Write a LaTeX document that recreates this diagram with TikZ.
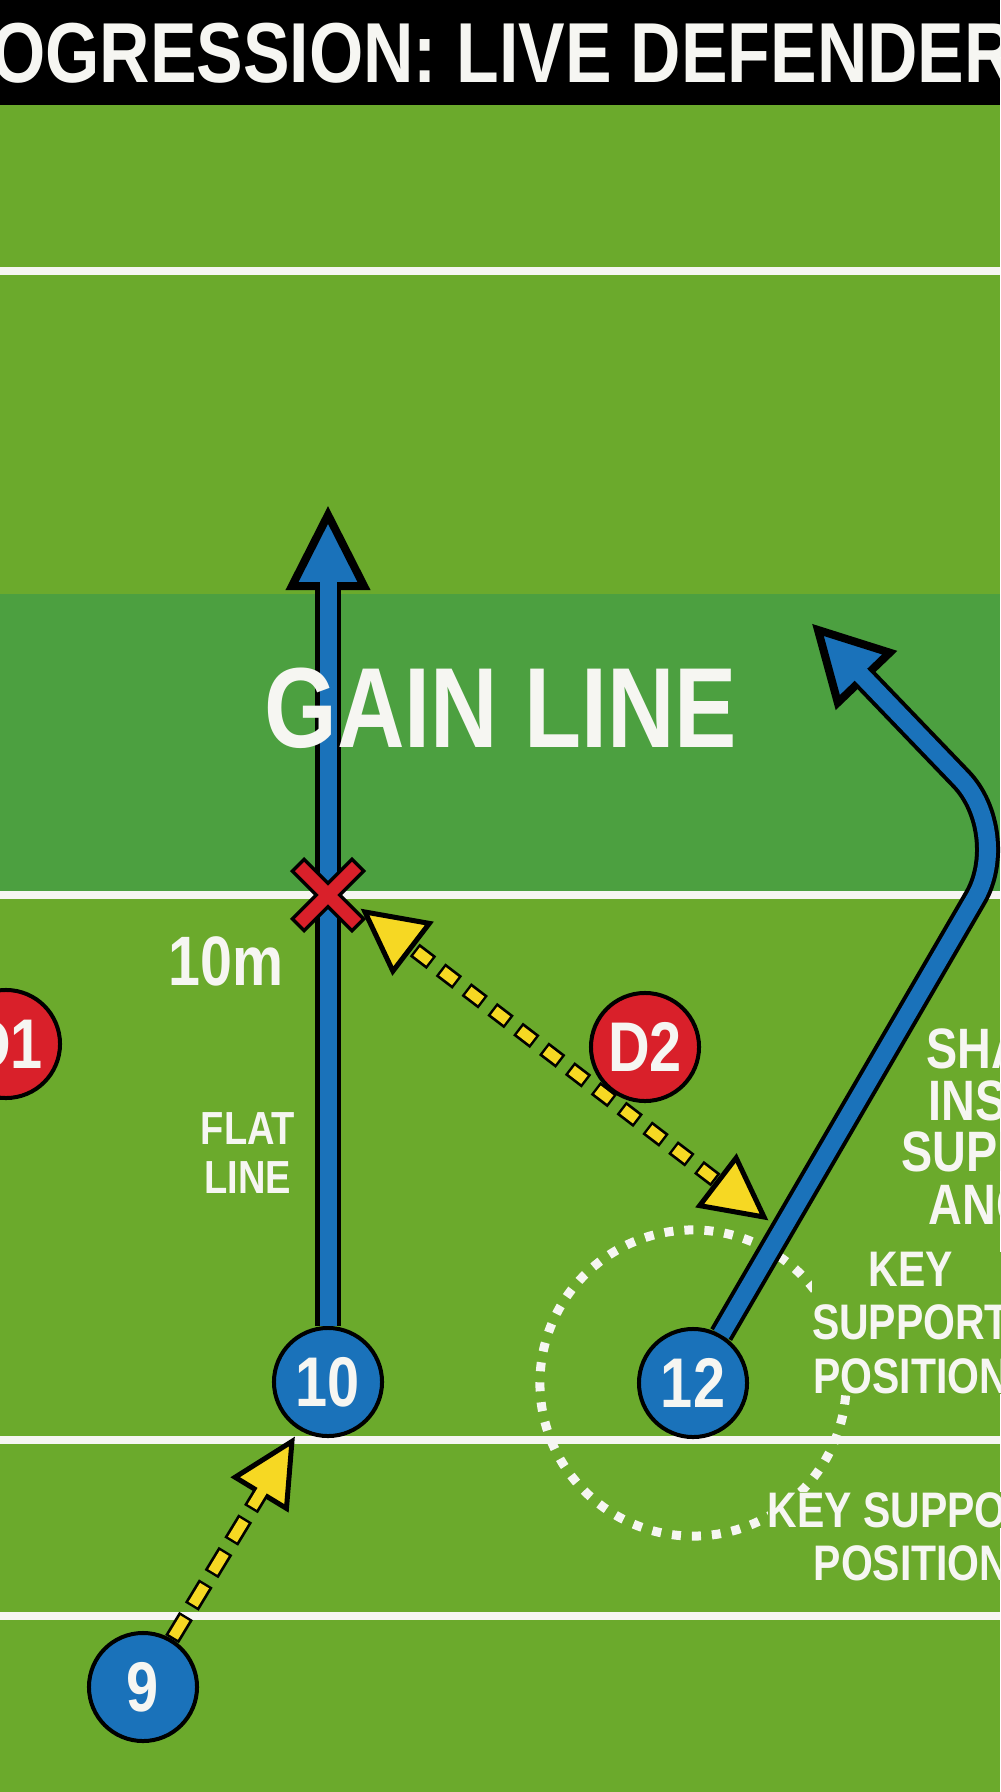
\documentclass[tikz,border=0pt]{standalone}
\usepackage{fontspec}
\newfontfamily\boardfont{Liberation Sans}[FakeStretch=0.82]
\usetikzlibrary{calc}

\definecolor{pitch}{HTML}{6BAA2C}
\definecolor{gainband}{HTML}{4CA040}
\definecolor{runblue}{HTML}{1A72BA}
\definecolor{defred}{HTML}{D9202A}
\definecolor{passyellow}{HTML}{F6D823}
\definecolor{chalk}{HTML}{F6F6F2}

\newcommand{\boardsize}[2]{\boardfont\bfseries\fontsize{#1}{#2}\selectfont}

\tikzset{
    fieldline/.style={draw=chalk, line width=0.08cm},
    player/.style={circle, draw=black, line width=0.04cm, minimum size=1.08cm, inner sep=0pt, text=chalk, font=\boardsize{20}{22}},
    attacker/.style={player, fill=runblue},
    defender/.style={player, fill=defred},
    runshadow/.style={draw=black, line width=0.25cm, shorten >=0.5cm},
    runline/.style={draw=runblue, line width=0.17cm, shorten >=0.5cm},
    runhead/.style={fill=runblue, draw=black, line width=0.08cm},
    passshadow/.style={draw=black, line width=0.16cm},
    passline/.style={draw=passyellow, line width=0.105cm},
    passhead/.style={fill=passyellow, draw=black, line width=0.05cm},
    boardtext/.style={text=chalk, inner sep=0pt, align=center}
}

\begin{document}
\begin{tikzpicture}[x=0.01cm, y=-0.01cm]
    \useasboundingbox (0,0) rectangle (1000,1792);
    \fill[pitch] (0,0) rectangle (1000,1792);
    \fill[gainband] (0,594) rectangle (1000,891);
    \fill[black] (0,0) rectangle (1000,105);
    \draw[fieldline] (0,271) -- (1000,271);
    \draw[fieldline] (0,895) -- (1000,895);
    \draw[fieldline] (0,1440) -- (1000,1440);
    \draw[fieldline] (0,1616) -- (1000,1616);

    \node[boardtext, font=\boardsize{24.2}{29}] (title) at (503,53) {OGRESSION: LIVE DEFENDER};

    \node[defender] (D1) at (6,1044) {D1};
    \node[defender] (D2) at (645,1047) {D2};
    \node[attacker] (10) at (328,1382) {10};
    \node[attacker] (12) at (693,1383) {12};
    \node[attacker] (9) at (143,1687) {9};

    \draw[chalk, line width=0.09cm, dash pattern=on 0.09cm off 0.11cm] (12) circle[radius=1.53cm];

    \coordinate (run10tip) at (328,515);
    \coordinate (bend) at (1013,833);
    \coordinate (run12tip) at (818,630);

    \draw[runshadow] (10) -- (run10tip);
    \path ($(run10tip)!0.71cm!(10)$) coordinate (run10base);
    \path[runhead] (run10tip) -- ($(run10base)!0.36cm!90:(run10tip)$) -- ($(run10base)!0.36cm!-90:(run10tip)$) -- cycle;
    \draw[runline] (10) -- (run10tip);

    \draw[runshadow, rounded corners=0.75cm] (12) -- (bend) -- (run12tip);
    \path ($(run12tip)!0.66cm!(bend)$) coordinate (run12base);
    \path[runhead] (run12tip) -- ($(run12base)!0.36cm!90:(run12tip)$) -- ($(run12base)!0.36cm!-90:(run12tip)$) -- cycle;
    \draw[runline, rounded corners=0.75cm] (12) -- (bend) -- (run12tip);

    \node[boardtext, font=\boardsize{32.4}{38}] (gain) at (501,708) {GAIN LINE};

    \coordinate (tackle) at (328,895);
    \draw[black, line width=0.20cm] (tackle) ++(-31,-31) -- ++(62,62) (tackle) ++(-31,31) -- ++(62,-62);
    \draw[defred, line width=0.13cm] (tackle) ++(-28.5,-28.5) -- ++(57,57) (tackle) ++(-28.5,28.5) -- ++(57,-57);

    \coordinate (tackletip) at (365,912);
    \coordinate (support) at (764,1217);
    \draw[passshadow, dash pattern=on 0.21cm off 0.115cm, shorten <=0.3cm, shorten >=0.3cm] (tackletip) -- (support);
    \path ($(tackletip)!0.58cm!(support)$) coordinate (tacklebase);
    \path ($(support)!0.58cm!(tackletip)$) coordinate (supportbase);
    \path[passhead] (tackletip) -- ($(tacklebase)!0.30cm!90:(tackletip)$) -- ($(tacklebase)!0.30cm!-90:(tackletip)$) -- cycle;
    \path[passhead] (support) -- ($(supportbase)!0.30cm!90:(support)$) -- ($(supportbase)!0.30cm!-90:(support)$) -- cycle;
    \draw[passline, dash pattern=on 0cm off 0.025cm on 0.16cm off 0.14cm, shorten <=0.3cm, shorten >=0.3cm] (tackletip) -- (support);

    \coordinate (pass10) at ($(10)!0.695cm!(9)$);
    \draw[passshadow, dash pattern=on 0.27cm off 0.11cm, shorten >=0.3cm] (9) -- (pass10);
    \path ($(pass10)!0.60cm!(9)$) coordinate (pass10base);
    \path[passhead] (pass10) -- ($(pass10base)!0.30cm!90:(pass10)$) -- ($(pass10base)!0.30cm!-90:(pass10)$) -- cycle;
    \draw[passline, dash pattern=on 0cm off 0.025cm on 0.22cm off 0.135cm, shorten >=0.3cm] (9) -- (pass10);

    \node[boardtext, font=\boardsize{19.9}{24}] (tenm) at (226,961) {10m};
    \node[boardtext, font=\boardsize{13.2}{14.2}] (flat) at (248,1153) {FLAT\\LINE};
    \node[boardtext, anchor=west, font=\boardsize{16.2}{20}] (angle1) at (926,1049) {SHA};
    \node[boardtext, anchor=west, font=\boardsize{16.2}{20}] (angle2) at (928,1101) {INS};
    \node[boardtext, anchor=west, font=\boardsize{16.2}{20}] (angle3) at (901,1152) {SUPP};
    \node[boardtext, anchor=west, font=\boardsize{16.2}{20}] (angle4) at (928,1205) {ANG};
    \node[boardtext, fill=pitch, font=\boardsize{14.2}{15.2}] (key) at (911,1323) {KEY\\SUPPORT\\POSITION};
    \node[boardtext, fill=pitch, anchor=west, font=\boardsize{14.2}{17}] (keylow) at (767,1510) {KEY SUPPO};
    \node[boardtext, anchor=west, font=\boardsize{14.2}{17}] (poslow) at (813,1563) {POSITION};
\end{tikzpicture}
\end{document}
